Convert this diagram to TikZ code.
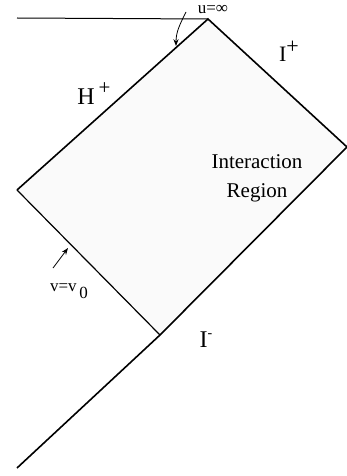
\documentclass[tikz,border=0pt]{standalone}
\usepackage{fontspec}
\setmainfont{Liberation Serif}
\usetikzlibrary{arrows.meta,positioning,calc}

\begin{document}
\begin{tikzpicture}[
  x=1pt, y=-1pt,
  every node/.style={inner sep=0pt},
  edge/.style={line width=1.6pt, line join=miter},
  thinedge/.style={line width=1pt},
  region/.style={fill=black!2},
  biglbl/.style={font=\fontsize{24}{26}\selectfont},
  midlbl/.style={font=\fontsize{21}{24}\selectfont, align=center},
  smalllbl/.style={font=\fontsize{17}{19}\selectfont},
  pointer/.style={-{Stealth[length=2.4mm, width=1.8mm]}, line width=0.8pt}
]
  \useasboundingbox (0,0) rectangle (347,476);

  % corners of the diamond
  \coordinate (top)   at (208,19);
  \coordinate (left)  at (17,190);
  \coordinate (bot)   at (160,335);
  \coordinate (right) at (347,147);
  \coordinate (far)   at (17,468);
  \coordinate (hz)    at (17,18);

  \fill[region] (top) -- (right) -- (bot) -- (left) -- cycle;

  \draw[thinedge] (hz) -- (top);
  \draw[edge] (left) -- (top) -- (right);
  \draw[edge] (far) -- (bot) -- (right);
  \draw[line width=1.2pt] (left) -- (bot);

  % labels
  \node[biglbl] (hplus) at (94,94) {H\,\raisebox{10pt}{\fontsize{21}{21}\selectfont +}};
  \node[font=\fontsize{22}{24}\selectfont] (iplus) at (289,51) {I\raisebox{8pt}{+}};
  \node[biglbl] (iminus) at (206,340) {I\raisebox{10pt}{\fontsize{14}{14}\selectfont -}};
  \node[midlbl] (inter) at (257,178) {Interaction\\[5pt]Region};

  \node[smalllbl] (uinf) at (213,10) {u=∞};
  \node[smalllbl] (vnull) at (69,291) {v=v\,\raisebox{-7pt}{0}};

  \coordinate (utail) at (186,12);
  \coordinate (uhead) at (176,46);
  \draw[pointer] (utail) .. controls (180,24) and (176,32) .. (uhead);

  \coordinate (vtail) at (53,268);
  \coordinate (vhead) at (68,248);
  \draw[pointer] (vtail) -- (vhead);
\end{tikzpicture}
\end{document}
